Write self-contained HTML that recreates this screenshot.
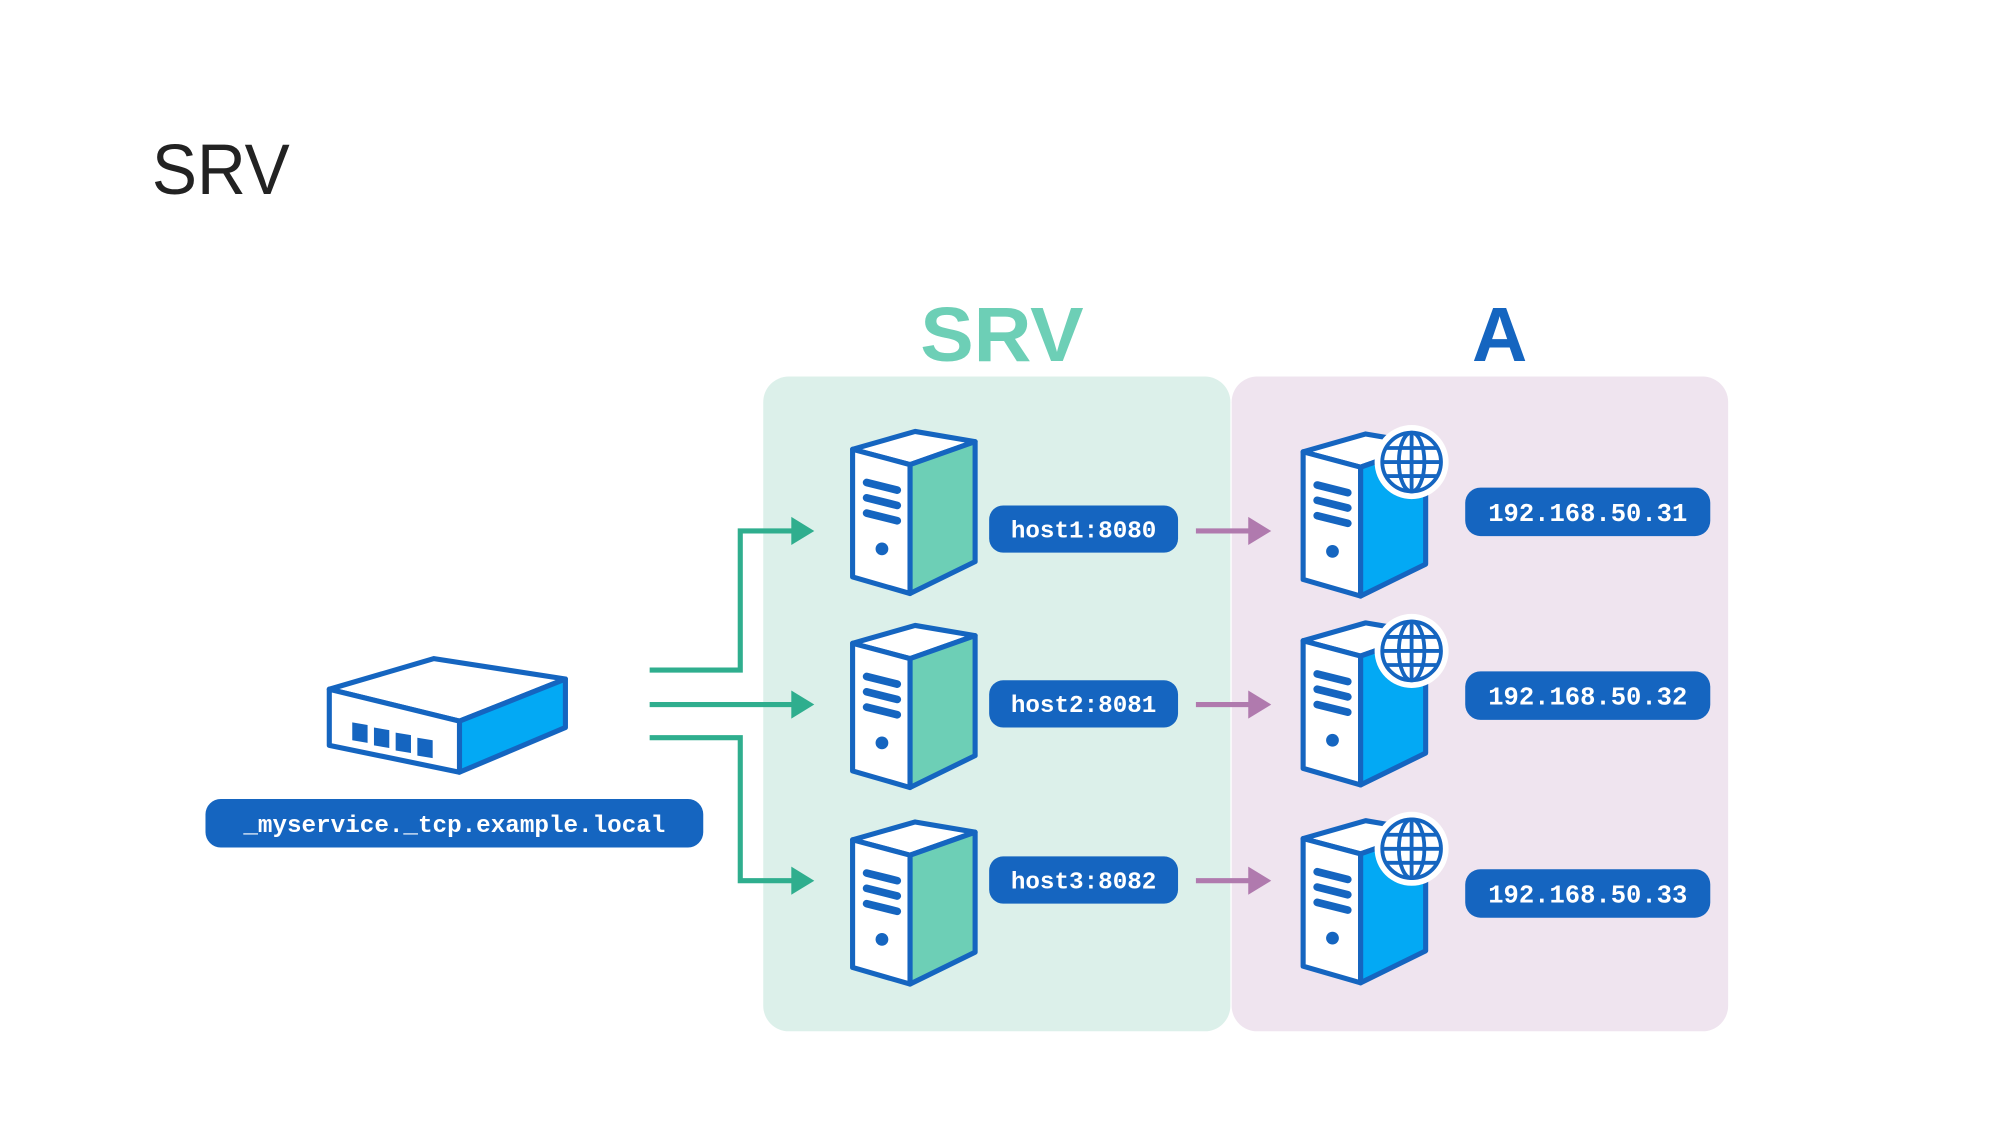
<!DOCTYPE html>
<html><head><meta charset="utf-8"><style>
html,body{margin:0;padding:0;background:#fff;width:2000px;height:1125px;overflow:hidden}
svg{display:block}
.mono{font-family:"Liberation Mono",monospace;font-weight:bold;fill:#fff}
</style></head><body>
<svg width="2000" height="1125" viewBox="0 0 1567 881.4">
<defs>
<g id="srv">
<polygon points="1,14 50,0 97,8 46,26" fill="#fff" stroke="#1565c0" stroke-width="4" stroke-linejoin="round"/>
<polygon points="46,26 97,8 97,102 46,127" fill="#6dcfb6" stroke="#1565c0" stroke-width="4" stroke-linejoin="round"/>
<polygon points="1,14 46,26 46,127 1,114" fill="#fff" stroke="#1565c0" stroke-width="4" stroke-linejoin="round"/>
<g stroke="#1565c0" stroke-width="6" stroke-linecap="round">
<line x1="12" y1="40" x2="36" y2="46"/><line x1="12" y1="52" x2="36" y2="58"/><line x1="12" y1="64" x2="36" y2="70"/>
</g>
<circle cx="24" cy="92" r="5" fill="#1565c0"/>
</g>
<g id="asrv">
<polygon points="1,14 50,0 97,8 46,26" fill="#fff" stroke="#1565c0" stroke-width="4" stroke-linejoin="round"/>
<polygon points="46,26 97,8 97,102 46,127" fill="#03a9f4" stroke="#1565c0" stroke-width="4" stroke-linejoin="round"/>
<polygon points="1,14 46,26 46,127 1,114" fill="#fff" stroke="#1565c0" stroke-width="4" stroke-linejoin="round"/>
<g stroke="#1565c0" stroke-width="6" stroke-linecap="round">
<line x1="12" y1="40" x2="36" y2="46"/><line x1="12" y1="52" x2="36" y2="58"/><line x1="12" y1="64" x2="36" y2="70"/>
</g>
<circle cx="24" cy="92" r="5" fill="#1565c0"/>
<circle cx="86" cy="22" r="29" fill="#fff"/>
<g fill="none" stroke="#1565c0" stroke-width="3">
<circle cx="86" cy="22" r="23"/>
<ellipse cx="86" cy="22" rx="10" ry="23"/>
<line x1="86" y1="-1" x2="86" y2="45"/><line x1="63" y1="22" x2="109" y2="22"/>
<line x1="66" y1="11" x2="106" y2="11"/><line x1="66" y1="33" x2="106" y2="33"/>
</g>
</g>
</defs>
<text x="119" y="152" font-family="Liberation Sans,sans-serif" font-size="56" fill="#222" textLength="108" lengthAdjust="spacingAndGlyphs">SRV</text>
<rect x="965" y="295" width="389" height="513" rx="20" fill="#efe4ef"/>
<rect x="598" y="295" width="366" height="513" rx="20" fill="#dcf0ea"/>
<text x="785" y="283" text-anchor="middle" font-family="Liberation Sans,sans-serif" font-weight="bold" font-size="60" fill="#6dcfb6" textLength="128" lengthAdjust="spacingAndGlyphs">SRV</text>
<text x="1175" y="283" text-anchor="middle" font-family="Liberation Sans,sans-serif" font-weight="bold" font-size="60" fill="#1565c0">A</text>
<!-- router -->
<g stroke="#1565c0" stroke-width="4" stroke-linejoin="round">
<polygon points="258,540 340,516 443,532 360,565" fill="#fff"/>
<polygon points="360,565 443,532 443,570 360,605" fill="#03a9f4"/>
<polygon points="258,540 360,565 360,605 258,584" fill="#fff"/>
</g>
<g fill="#1565c0"><polygon points="276,566 288,568 288,582 276,580"/><polygon points="293,570 305,572 305,586 293,584"/><polygon points="310,574 322,576 322,590 310,588"/><polygon points="327,578 339,580 339,594 327,592"/></g>
<rect x="161" y="626" width="390" height="38" rx="12" fill="#1565c0"/>
<text x="356" y="652" text-anchor="middle" class="mono" font-size="19">_myservice._tcp.example.local</text>
<g fill="none" stroke="#2fae8e" stroke-width="4">
<polyline points="509,525 580,525 580,416 626,416"/>
<polyline points="509,552 626,552"/>
<polyline points="509,578 580,578 580,690 626,690"/>
</g>
<g fill="#2fae8e"><polygon points="620,405 638,416 620,427"/><polygon points="620,541 638,552 620,563"/><polygon points="620,679 638,690 620,701"/></g>
<use href="#srv" x="667" y="338"/>
<use href="#srv" x="667" y="490"/>
<use href="#srv" x="667" y="644"/>
<g fill="#1565c0"><rect x="775" y="396" width="148" height="37" rx="11"/><rect x="775" y="533" width="148" height="37" rx="11"/><rect x="775" y="671" width="148" height="37" rx="11"/></g>
<text x="849" y="421" text-anchor="middle" class="mono" font-size="19">host1:8080</text>
<text x="849" y="558" text-anchor="middle" class="mono" font-size="19">host2:8081</text>
<text x="849" y="696" text-anchor="middle" class="mono" font-size="19">host3:8082</text>
<g stroke="#b07aae" stroke-width="4"><line x1="937" y1="416" x2="982" y2="416"/><line x1="937" y1="552" x2="982" y2="552"/><line x1="937" y1="690" x2="982" y2="690"/></g>
<g fill="#b07aae"><polygon points="978,405 996,416 978,427"/><polygon points="978,541 996,552 978,563"/><polygon points="978,679 996,690 978,701"/></g>
<use href="#asrv" x="1020" y="340"/>
<use href="#asrv" x="1020" y="488"/>
<use href="#asrv" x="1020" y="643"/>
<g fill="#1565c0"><rect x="1148" y="382" width="192" height="38" rx="12"/><rect x="1148" y="526" width="192" height="38" rx="12"/><rect x="1148" y="681" width="192" height="38" rx="12"/></g>
<text x="1244" y="408" text-anchor="middle" class="mono" font-size="20">192.168.50.31</text>
<text x="1244" y="552" text-anchor="middle" class="mono" font-size="20">192.168.50.32</text>
<text x="1244" y="707" text-anchor="middle" class="mono" font-size="20">192.168.50.33</text>
</svg>
</body></html>
